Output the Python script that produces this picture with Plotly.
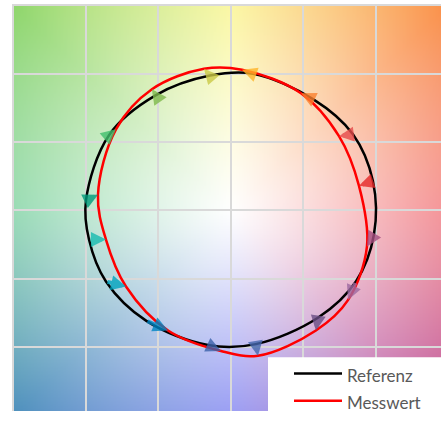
import base64
import struct
import zlib

import numpy as np
import plotly.graph_objects as go

# hue bins (1..16), reference (tail) and measured (head) coordinates, normalized
bins = ["1", "2", "3", "4", "5", "6", "7", "8", "9", "10", "11", "12", "13", "14", "15", "16"]
ref_x = [0.979, 0.841, 0.566, 0.152, -0.145, -0.517, -0.841, -1.000, -0.979, -0.862, -0.586, -0.159, 0.172, 0.600, 0.862, 0.986]
ref_y = [0.214, 0.557, 0.814, 1.000, 0.986, 0.843, 0.550, 0.071, -0.214, -0.521, -0.807, -0.986, -0.979, -0.786, -0.521, -0.179]
mes_x = [0.883, 0.745, 0.483, 0.076, -0.186, -0.545, -0.793, -0.917, -0.862, -0.724, -0.434, -0.069, 0.186, 0.586, 0.807, 0.938]
mes_y = [0.179, 0.543, 0.857, 1.029, 1.036, 0.886, 0.593, 0.114, -0.214, -0.557, -0.879, -1.029, -1.064, -0.879, -0.657, -0.264]
bin_colors = ["#E62828", "#E74B4B", "#FB812E", "#FFB529", "#CBCA46", "#7EB94C", "#41C06D", "#009C7C",
              "#16BCB0", "#00A4BF", "#0085C3", "#3B62AA", "#4568AE", "#6A4E85", "#9D69A1", "#A74F81"]

# background hue anchors (angle deg -> rgb)
bg_angles = [0, 45, 90, 135, 180, 225, 270, 315, 360]
bg_rgb = [(240, 100, 105), (250, 145, 75), (250, 245, 125), (145, 215, 110), (110, 205, 150),
          (80, 145, 190), (110, 115, 240), (190, 85, 155), (240, 100, 105)]

W, H = 441, 421
L, T = 12, 4
PW, PH = W - L, H - T
X0 = -1.51
X1 = X0 + PW / 145
Y1 = 1.51
Y0 = Y1 - PH / 140

# background image (rows from top to bottom)
n = 300
xs = np.linspace(X0, X1, n)
ys = np.linspace(Y1, Y0, n)
XX, YY = np.meshgrid(xs, ys)
ang = (np.degrees(np.arctan2(YY, XX)) + 360) % 360
rad = np.hypot(XX, YY)
s = np.clip(rad / 2.1, 0, 1) ** 1.1
img = np.zeros((n, n, 3))
for c in range(3):
    col = np.interp(ang, bg_angles, [v[c] for v in bg_rgb])
    img[..., c] = 255 + (col - 255) * s
img = np.clip(img, 0, 255).astype(np.uint8)


def to_png(arr):
    h, w, _ = arr.shape
    raw = b"".join(b"\x00" + arr[r].tobytes() for r in range(h))

    def chunk(tag, data):
        return struct.pack(">I", len(data)) + tag + data + struct.pack(">I", zlib.crc32(tag + data) & 0xFFFFFFFF)

    return (b"\x89PNG\r\n\x1a\n" + chunk(b"IHDR", struct.pack(">IIBBBBB", w, h, 8, 2, 0, 0, 0))
            + chunk(b"IDAT", zlib.compress(raw, 9)) + chunk(b"IEND", b""))


bg_src = "data:image/png;base64," + base64.b64encode(to_png(img)).decode()

fig = go.Figure()
fig.add_trace(go.Scatter(x=ref_x + ref_x[:1], y=ref_y + ref_y[:1], mode="lines",
                         line=dict(color="black", width=2.5, shape="spline", smoothing=1.0),
                         fill="toself", fillcolor="rgba(0,0,0,0)", name="Referenz", legendgroup="a"))
fig.add_trace(go.Scatter(x=mes_x + mes_x[:1], y=mes_y + mes_y[:1], mode="lines",
                         line=dict(color="#FF0000", width=2.5, shape="spline", smoothing=1.0),
                         fill="toself", fillcolor="rgba(0,0,0,0)", name="Messwert", legendgroup="b"))

for i in range(len(bins)):
    fig.add_annotation(x=mes_x[i], y=mes_y[i], ax=ref_x[i], ay=ref_y[i],
                       xref="x", yref="y", axref="x", ayref="y", text="",
                       showarrow=True, arrowhead=2, arrowsize=0.75, arrowwidth=4,
                       arrowcolor=bin_colors[i], opacity=0.8, standoff=0)

fig.add_layout_image(source=bg_src, xref="x", yref="y", x=X0, y=Y1, sizex=X1 - X0,
                     sizey=Y1 - Y0, sizing="stretch", xanchor="left", yanchor="top", layer="below")

# white legend panel
fig.add_shape(type="rect", xref="paper", yref="paper", x0=(268 - L) / PW, x1=1.02,
              y0=-0.02, y1=(H - 366) / PH, fillcolor="white", line=dict(width=0), layer="above")

fig.update_layout(
    width=W, height=H,
    margin=dict(l=L, r=0, t=T, b=0),
    paper_bgcolor="white", plot_bgcolor="rgba(0,0,0,0)",
    font=dict(family="Lato", size=17, color="#595959"),
    showlegend=True,
    legend=dict(x=(289 - L) / PW, y=(H - 367) / PH, xanchor="left", yanchor="top",
                bgcolor="rgba(0,0,0,0)", borderwidth=0, font=dict(size=17, color="#595959"),
                itemwidth=48, tracegroupgap=2),
    xaxis=dict(range=[X0, X1], tick0=0, dtick=0.5, showgrid=True, gridcolor="#D9D9D9", gridwidth=2,
               zeroline=False, showticklabels=False, ticks="", showline=False),
    yaxis=dict(range=[Y0, Y1], tick0=0, dtick=0.5, showgrid=True, gridcolor="#D9D9D9", gridwidth=2,
               zeroline=False, showticklabels=False, ticks="", showline=False),
)
fig.write_html("out.html", config={"displayModeBar": False},
               post_script="document.body.style.margin='0';")
